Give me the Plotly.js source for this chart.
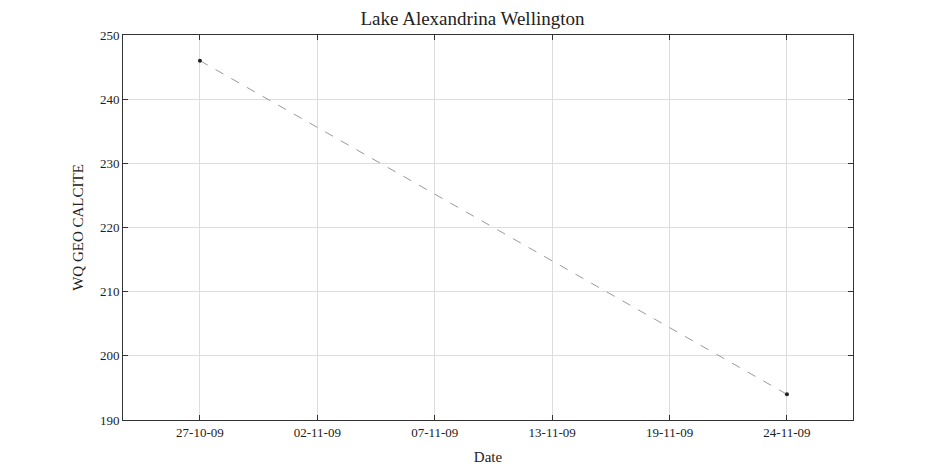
<!DOCTYPE html>
<html>
<head>
<script src="https://cdn.plot.ly/plotly-3.0.1.min.js"></script>
</head>
<body style="margin:0">
<div id="chart" style="width:945px;height:472px"></div>
<script>
var dates = ["2009-10-27", "2009-11-24"];
var values = [246, 194];
var tickLabels = ["27-10-09", "02-11-09", "07-11-09", "13-11-09", "19-11-09", "24-11-09"];

// ticks equally spaced between first and last sample
var t0 = Date.parse("2009-10-27T00:00:00Z"), t1 = Date.parse("2009-11-24T00:00:00Z");
var step = (t1 - t0) / 5;
var tickVals = tickLabels.map(function (l, i) { return new Date(t0 + i * step).toISOString(); });
var day = 86400000;

var trace = {
  x: dates, y: values, type: "scatter", mode: "lines+markers",
  line: {color: "#999999", width: 1, dash: "dash"},
  marker: {color: "#222222", size: 4}
};

var axisStyle = {
  showline: true, mirror: "ticks", linecolor: "#333", linewidth: 1,
  ticks: "inside", ticklen: 5, tickcolor: "#333",
  showgrid: true, gridcolor: "#dddddd", zeroline: false,
  tickfont: {size: 13, color: "#222"}
};

var layout = {
  font: {family: "Liberation Serif, DejaVu Serif, serif", color: "#222"},
  title: {text: "Lake Alexandrina Wellington", font: {size: 19}, x: 0.5, y: 0.975},
  margin: {l: 123, r: 92, t: 35, b: 52},
  plot_bgcolor: "white", paper_bgcolor: "white",
  showlegend: false,
  xaxis: Object.assign({}, axisStyle, {
    type: "date",
    range: [new Date(t0 - 3.67 * day).toISOString(), new Date(t1 + 3.15 * day).toISOString()],
    tickvals: tickVals, ticktext: tickLabels,
    title: {text: "Date", font: {size: 15}, standoff: 12}
  }),
  yaxis: Object.assign({}, axisStyle, {
    range: [190, 250], dtick: 10,
    title: {text: "WQ GEO CALCITE", font: {size: 15}, standoff: 12}
  })
};

Plotly.newPlot("chart", [trace], layout, {displayModeBar: false});
</script>
</body>
</html>
